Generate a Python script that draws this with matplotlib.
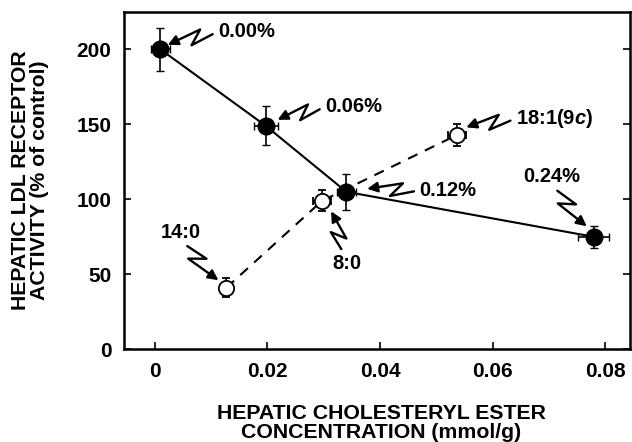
import matplotlib
matplotlib.use('Agg')
import numpy as np
import matplotlib.pyplot as plt
from matplotlib.patches import ConnectionStyle
from matplotlib.path import Path

plt.rcParams['font.family'] = ['Liberation Sans', 'DejaVu Sans']
plt.rcParams['font.weight'] = 'bold'
plt.rcParams['axes.labelweight'] = 'bold'
plt.rcParams['mathtext.fontset'] = 'custom'
plt.rcParams['mathtext.it'] = 'Liberation Sans:italic:bold'

# ---- data: dietary cholesterol series (filled) ----
chol_x = [0.001, 0.0197, 0.034, 0.0779]
chol_y = [200, 149, 105, 75]
chol_xerr = [0.0017, 0.0021, 0.0017, 0.0028]
chol_yerr = [14.5, 13, 12, 7.5]
chol_labels = ['0.00%', '0.06%', '0.12%', '0.24%']

# ---- data: fatty acid series (open) ----
fa_x = [0.0127, 0.0297, 0.0537]
fa_y = [41, 99, 143]
fa_xerr = [0.0012, 0.0016, 0.0016]
fa_yerr = [6.5, 7, 7.5]
fa_labels = ['14:0', '8:0', '18:1(9$\\it{c}$)']


class Zigzag(ConnectionStyle._Base):
    """straight connector with a 'Z' kink in the middle (lightning arrow)"""
    def __init__(self, w=6.5):
        self.w = w

    def connect(self, posA, posB):
        a = np.asarray(posA, float)
        b = np.asarray(posB, float)
        d = b - a
        L = np.hypot(*d)
        u = d / L
        n = np.array([-u[1], u[0]])
        p1 = a + 0.56 * L * u + self.w * n
        p2 = a + 0.32 * L * u - self.w * n
        verts = [a, p1, p2, b]
        codes = [Path.MOVETO, Path.LINETO, Path.LINETO, Path.LINETO]
        return Path(verts, codes)


fig = plt.figure(figsize=(6.32, 4.42), dpi=100)
ax = fig.add_axes([0.196, 0.21, 0.801, 0.763])

ax.plot(chol_x, chol_y, color='black', lw=1.5)
ax.plot(fa_x, fa_y, color='black', lw=1.5, ls=(0, (5, 4)))

ax.errorbar(chol_x, chol_y, xerr=chol_xerr, yerr=chol_yerr, fmt='o', color='black',
            ms=12, mfc='black', mec='black', ecolor='black', elinewidth=1.2, capsize=3, zorder=3)
ax.errorbar(fa_x, fa_y, xerr=fa_xerr, yerr=fa_yerr, fmt='o', color='black',
            ms=11, mfc='white', mec='black', mew=1.3, ecolor='black', elinewidth=1.2, capsize=3, zorder=3)

fs = 14.5


def label(text, tip, pos, ha='left', va='center', relpos=(0, 0.5)):
    ax.annotate(text, xy=tip, xytext=pos, ha=ha, va=va, fontsize=fs,
                arrowprops=dict(arrowstyle='-|>', color='black', lw=1.7, mutation_scale=15,
                                shrinkA=2, shrinkB=0, relpos=relpos,
                                connectionstyle=Zigzag()))


label(chol_labels[0], (0.0023, 203), (0.0112, 212))
label(chol_labels[1], (0.0218, 153), (0.0302, 162))
label(chol_labels[2], (0.0377, 107), (0.0470, 106))
label(chol_labels[3], (0.0767, 82), (0.0704, 115), ha='center', relpos=(0.5, 0))
label(fa_labels[0], (0.0113, 46), (0.0046, 78), ha='center', relpos=(0.5, 0))
label(fa_labels[1], (0.0313, 92), (0.0342, 57), ha='center', relpos=(0.4, 1))
label(fa_labels[2], (0.0553, 148), (0.0641, 154))

ax.set_xlim(-0.0055, 0.0844)
ax.set_ylim(0, 225)
ax.set_xticks([0, 0.02, 0.04, 0.06, 0.08])
ax.set_xticklabels(['0', '0.02', '0.04', '0.06', '0.08'])
ax.set_yticks([0, 50, 100, 150, 200])
ax.tick_params(direction='in', length=5, width=1.2, labelsize=15, pad=9, right=True)
for s in ax.spines.values():
    s.set_linewidth(1.8)

ax.set_xlabel('HEPATIC CHOLESTERYL ESTER\nCONCENTRATION (mmol/g)', fontsize=15.3,
              linespacing=1.0, va='center')
ax.set_ylabel('HEPATIC LDL RECEPTOR\nACTIVITY (% of control)', fontsize=15.3,
              linespacing=1.0, va='center')
ax.xaxis.set_label_coords(0.508, -0.22)
ax.yaxis.set_label_coords(-0.186, 0.50)

fig.savefig('out.png', dpi=100)
